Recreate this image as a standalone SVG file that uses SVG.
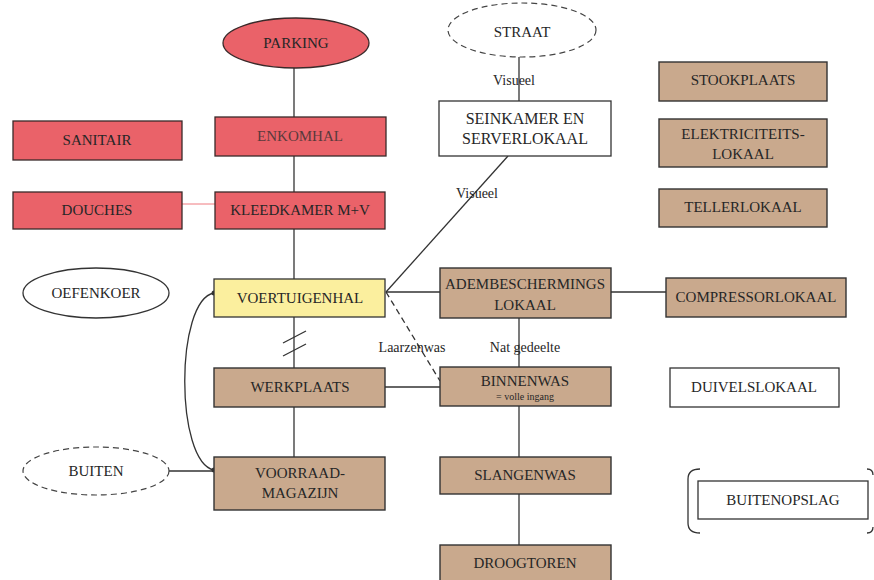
<svg xmlns="http://www.w3.org/2000/svg" width="874" height="580" viewBox="0 0 874 580">
<style>
text{font-family:"Liberation Serif","Times New Roman",serif;font-size:15px;fill:#262626;text-anchor:middle}
.red{fill:#ea6269;stroke:#3a2a2a;stroke-width:1.3}
.tan{fill:#c9a98d;stroke:#333;stroke-width:1.4}
.yel{fill:#fbef9e;stroke:#333;stroke-width:1.3}
.wht{fill:#fff;stroke:#333;stroke-width:1.3}
.dash{fill:#fff;stroke:#444;stroke-width:1.2;stroke-dasharray:6 4}
.ln{stroke:#333;stroke-width:1.3;fill:none}
.lbl{font-size:14px}
.sm{font-size:10px}
</style>
<rect width="874" height="580" fill="#fff"/>
<g id="connectors">
<line class="ln" x1="294" y1="68" x2="294" y2="117"/>
<line class="ln" x1="294" y1="156" x2="294" y2="192"/>
<line x1="182" y1="204" x2="215" y2="204" stroke="#ef7a80" stroke-width="1"/>
<line class="ln" x1="294" y1="229" x2="294" y2="279"/>
<line class="ln" x1="294" y1="317" x2="294" y2="368"/>
<line class="ln" x1="283" y1="343" x2="306" y2="331"/>
<line class="ln" x1="283" y1="356" x2="306" y2="344"/>
<line class="ln" x1="294" y1="407" x2="294" y2="457"/>
<line class="ln" x1="519" y1="57" x2="519" y2="101"/>
<line class="ln" x1="508" y1="156" x2="386" y2="292"/>
<line class="ln" x1="386" y1="292" x2="440" y2="292"/>
<line class="ln" x1="386" y1="292" x2="440" y2="381" stroke-dasharray="6 4"/>
<line class="ln" x1="611" y1="292" x2="666" y2="292"/>
<line class="ln" x1="519" y1="318" x2="519" y2="367"/>
<line class="ln" x1="385" y1="387" x2="440" y2="387"/>
<line class="ln" x1="519" y1="406" x2="519" y2="457"/>
<line class="ln" x1="519" y1="494" x2="519" y2="545"/>
<line class="ln" x1="169" y1="471" x2="214" y2="471"/>
<path class="ln" d="M214,293 C175,300 175,462 214,470"/>
<circle cx="214" cy="293" r="2.5" fill="#333"/>
<circle cx="214" cy="470" r="2.5" fill="#333"/>
<text class="lbl" x="514" y="85">Visueel</text>
<text class="lbl" x="477" y="198">Visueel</text>
<text class="lbl" x="412" y="352">Laarzenwas</text>
<text class="lbl" x="525" y="352">Nat gedeelte</text>
</g>
<g id="parking"><ellipse class="red" cx="296" cy="43" rx="73" ry="25"/><text x="296" y="48">PARKING</text></g>
<g id="enkomhal"><rect class="red" x="215" y="117" width="171" height="39"/><text x="300" y="141" style="fill:#5a3a3c">ENKOMHAL</text></g>
<g id="sanitair"><rect class="red" x="13" y="121" width="169" height="39"/><text x="97" y="145">SANITAIR</text></g>
<g id="douches"><rect class="red" x="13" y="192" width="169" height="37"/><text x="97" y="215">DOUCHES</text></g>
<g id="kleedkamer"><rect class="red" x="215" y="192" width="170" height="37"/><text x="300" y="215">KLEEDKAMER M+V</text></g>
<g id="straat"><ellipse class="dash" cx="522" cy="30" rx="74" ry="27"/><text x="522" y="37">STRAAT</text></g>
<g id="seinkamer"><rect class="wht" x="439" y="101" width="172" height="55"/><text x="525" y="124" style="font-size:16px">SEINKAMER EN</text><text x="525" y="144" style="font-size:16px">SERVERLOKAAL</text></g>
<g id="stookplaats"><rect class="tan" x="659" y="62" width="168" height="39"/><text x="743" y="85">STOOKPLAATS</text></g>
<g id="elektriciteit"><rect class="tan" x="659" y="119" width="168" height="48"/><text x="743" y="139">ELEKTRICITEITS-</text><text x="743" y="159">LOKAAL</text></g>
<g id="tellerlokaal"><rect class="tan" x="659" y="189" width="168" height="38"/><text x="743" y="212">TELLERLOKAAL</text></g>
<g id="oefenkoer"><ellipse class="wht" cx="96" cy="293" rx="73" ry="25"/><text x="96" y="298">OEFENKOER</text></g>
<g id="voertuigenhal"><rect class="yel" x="214" y="279" width="171" height="38"/><text x="300" y="303">VOERTUIGENHAL</text></g>
<g id="adembescherming"><rect class="tan" x="440" y="268" width="171" height="50"/><text x="525" y="289">ADEMBESCHERMINGS</text><text x="525" y="310">LOKAAL</text></g>
<g id="compressor"><rect class="tan" x="666" y="278" width="180" height="39"/><text x="756" y="302">COMPRESSORLOKAAL</text></g>
<g id="werkplaats"><rect class="tan" x="214" y="368" width="171" height="39"/><text x="300" y="392">WERKPLAATS</text></g>
<g id="binnenwas"><rect class="tan" x="440" y="367" width="171" height="39"/><text x="525" y="386">BINNENWAS</text><text class="sm" x="525" y="400">= volle ingang</text></g>
<g id="duivelslokaal"><rect class="wht" x="670" y="368" width="169" height="39"/><text x="754" y="392">DUIVELSLOKAAL</text></g>
<g id="buiten"><ellipse class="dash" cx="96" cy="471" rx="73" ry="24"/><text x="96" y="476">BUITEN</text></g>
<g id="voorraad"><rect class="tan" x="214" y="457" width="171" height="53"/><text x="300" y="478">VOORRAAD-</text><text x="300" y="498">MAGAZIJN</text></g>
<g id="slangenwas"><rect class="tan" x="440" y="457" width="171" height="37"/><text x="525" y="480">SLANGENWAS</text></g>
<g id="buitenopslag"><path class="ln" d="M700,469 Q688,469 688,479 L688,523 Q688,533 700,533"/><path class="ln" d="M867,469 Q873,469 873,475 M873,527 Q873,533 867,533"/><rect class="wht" x="698" y="481" width="170" height="38"/><text x="783" y="505">BUITENOPSLAG</text></g>
<g id="droogtoren"><rect class="tan" x="440" y="545" width="171" height="40"/><text x="525" y="568">DROOGTOREN</text></g>
</svg>
